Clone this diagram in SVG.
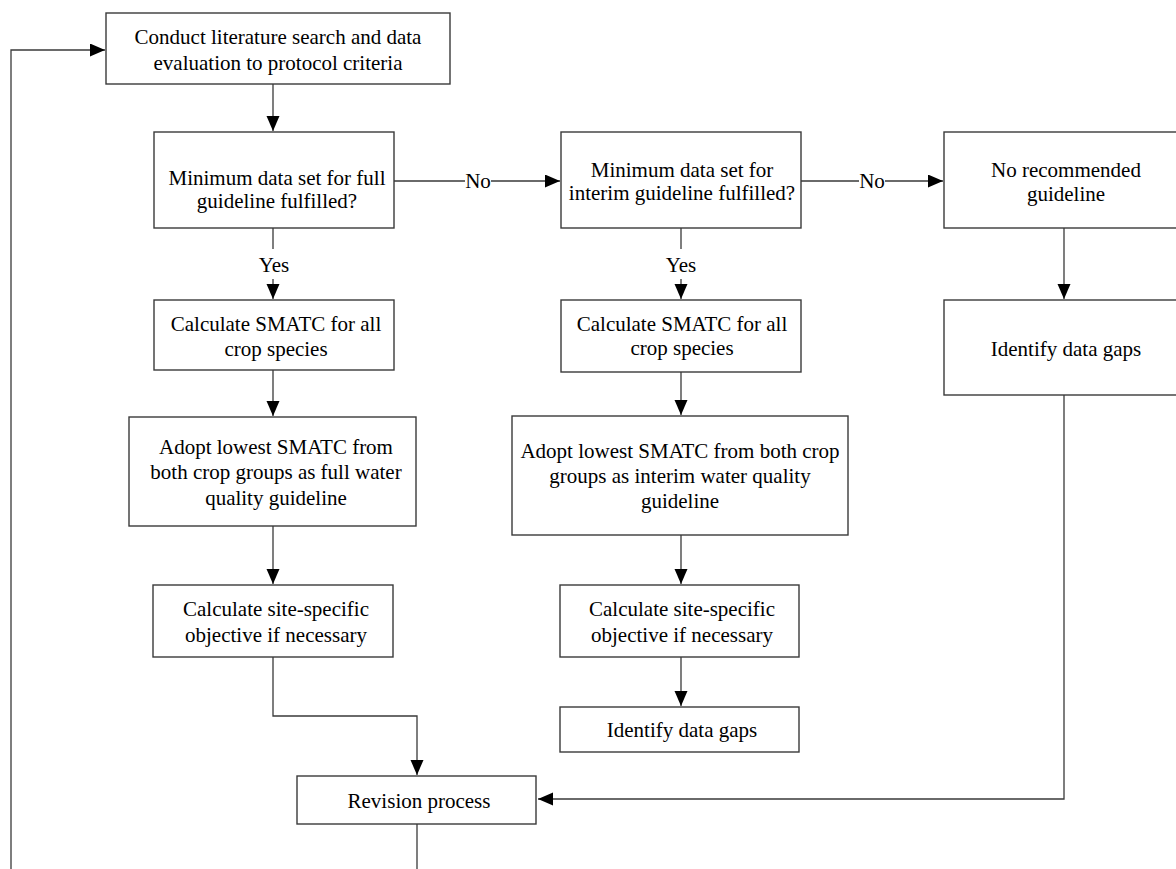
<svg xmlns="http://www.w3.org/2000/svg" width="1176" height="869" viewBox="0 0 1176 869">
<defs>
<style>
.box{fill:#fff;stroke:#3a3a3a;stroke-width:1.4}
.t{font-family:"Liberation Serif","Times New Roman",serif;font-size:21px;fill:#000;text-anchor:middle}
.c{fill:none;stroke:#3a3a3a;stroke-width:1.3}
</style>
<marker id="ah" markerUnits="userSpaceOnUse" markerWidth="16" markerHeight="14" refX="15" refY="6.5" orient="auto">
<path d="M0,0 L15,6.5 L0,13 z" fill="#000"/>
</marker>
</defs>
<rect width="1176" height="869" fill="#fff"/>

<g id="connectors">
<path class="c" d="M11,869 V50 H105" marker-end="url(#ah)"/>
<path class="c" d="M273,84 V131" marker-end="url(#ah)"/>
<path class="c" d="M394,181 H465 M491,181 H560" marker-end="url(#ah)"/>
<path class="c" d="M801,181 H859 M885,181 H943" marker-end="url(#ah)"/>
<path class="c" d="M273,228 V249 M273,279 V299" marker-end="url(#ah)"/>
<path class="c" d="M681,228 V249 M681,279 V299" marker-end="url(#ah)"/>
<path class="c" d="M273,370 V416" marker-end="url(#ah)"/>
<path class="c" d="M273,526 V584" marker-end="url(#ah)"/>
<path class="c" d="M273,657 V716 H417 V775" marker-end="url(#ah)"/>
<path class="c" d="M681,372 V415" marker-end="url(#ah)"/>
<path class="c" d="M681,535 V584" marker-end="url(#ah)"/>
<path class="c" d="M681,657 V706" marker-end="url(#ah)"/>
<path class="c" d="M1064,228 V299" marker-end="url(#ah)"/>
<path class="c" d="M1064,395 V799 H538" marker-end="url(#ah)"/>
<path class="c" d="M417,824 V869"/>
<text class="t" x="478" y="188">No</text>
<text class="t" x="872" y="188">No</text>
<text class="t" x="274" y="272">Yes</text>
<text class="t" x="681" y="272">Yes</text>
</g>

<g id="n-conduct">
<rect class="box" x="106" y="13" width="344" height="71"/>
<text class="t" x="278" y="44">Conduct literature search and data</text>
<text class="t" x="278" y="70">evaluation to protocol criteria</text>
</g>

<g id="n-full-q">
<rect class="box" x="154" y="132" width="240" height="96"/>
<text class="t" x="277" y="185">Minimum data set for full</text>
<text class="t" x="277" y="208">guideline fulfilled?</text>
</g>

<g id="n-interim-q">
<rect class="box" x="561" y="132" width="240" height="96"/>
<text class="t" x="682" y="177">Minimum data set for</text>
<text class="t" x="682" y="200">interim guideline fulfilled?</text>
</g>

<g id="n-norec">
<rect class="box" x="944" y="132" width="250" height="96"/>
<text class="t" x="1066" y="177">No recommended</text>
<text class="t" x="1066" y="201">guideline</text>
</g>

<g id="n-gaps-right">
<rect class="box" x="944" y="300" width="250" height="95"/>
<text class="t" x="1066" y="356">Identify data gaps</text>
</g>

<g id="n-smatc-full">
<rect class="box" x="154" y="300" width="240" height="70"/>
<text class="t" x="276" y="331">Calculate SMATC for all</text>
<text class="t" x="276" y="356">crop species</text>
</g>

<g id="n-smatc-interim">
<rect class="box" x="561" y="300" width="240" height="72"/>
<text class="t" x="682" y="331">Calculate SMATC for all</text>
<text class="t" x="682" y="355">crop species</text>
</g>

<g id="n-adopt-full">
<rect class="box" x="129" y="417" width="287" height="109"/>
<text class="t" x="276" y="454">Adopt lowest SMATC from</text>
<text class="t" x="276" y="479">both crop groups as full water</text>
<text class="t" x="276" y="505">quality guideline</text>
</g>

<g id="n-adopt-interim">
<rect class="box" x="512" y="416" width="336" height="119"/>
<text class="t" x="680" y="458">Adopt lowest SMATC from both crop</text>
<text class="t" x="680" y="483">groups as interim water quality</text>
<text class="t" x="680" y="508">guideline</text>
</g>

<g id="n-site-full">
<rect class="box" x="153" y="585" width="240" height="72"/>
<text class="t" x="276" y="616">Calculate site-specific</text>
<text class="t" x="276" y="642">objective if necessary</text>
</g>

<g id="n-site-interim">
<rect class="box" x="560" y="585" width="239" height="72"/>
<text class="t" x="682" y="616">Calculate site-specific</text>
<text class="t" x="682" y="642">objective if necessary</text>
</g>

<g id="n-gaps-mid">
<rect class="box" x="560" y="707" width="239" height="45"/>
<text class="t" x="682" y="737">Identify data gaps</text>
</g>

<g id="n-revision">
<rect class="box" x="297" y="776" width="239" height="48"/>
<text class="t" x="419" y="808">Revision process</text>
</g>
</svg>
